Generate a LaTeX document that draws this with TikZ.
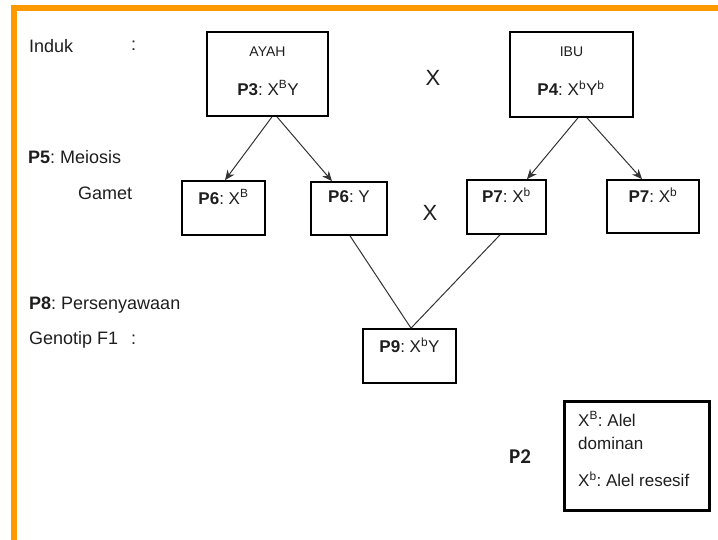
\documentclass[tikz,border=0pt]{standalone}
\usepackage{fontspec}
\setmainfont{Liberation Sans}
\newfontfamily\labelfont{Carlito}
\usetikzlibrary{arrows.meta,calc}
\frenchspacing
\definecolor{frameorange}{HTML}{FF9900}
\definecolor{linegray}{HTML}{333333}
\definecolor{inkgray}{HTML}{1E1E1E}
\tikzset{
  box/.style={draw=black,line width=1.7pt,minimum width=#1,inner sep=0pt},
  lbl/.style={anchor=west,inner sep=0pt,text=inkgray,font=\fontsize{18}{21}\selectfont},
  txt/.style={inner sep=0pt,text=inkgray,font=\fontsize{17}{20}\selectfont},
  small/.style={inner sep=0pt,text=inkgray,font=\fontsize{14}{17}\selectfont},
  cross/.style={inner sep=0pt,text=inkgray,font=\fontsize{22}{24}\selectfont},
  arr/.style={draw=linegray,line width=1pt,-{Stealth[length=10pt,width=8.5pt]}},
  link/.style={draw=linegray,line width=1pt}
}
\begin{document}
\begin{tikzpicture}[x=1pt,y=-1pt]
\useasboundingbox (0,0) rectangle (718,540);
% page frame
\fill[frameorange] (11,5) rectangle (718,11);
\fill[frameorange] (11,5) rectangle (17,540);

% row labels
\node[lbl] (induk) at (29,46) {Induk};
\node[lbl] (c1) at (131,46) {:};
\node[lbl] (meiosis) at (28,157) {\textbf{P5}: Meiosis};
\node[lbl] (gamet) at (78,193) {Gamet};
\node[lbl] (fert) at (29,305) {\textbf{P8}: Persenyawaan};
\node[lbl] (geno) at (29,340) {Genotip F1};
\node[lbl] (c2) at (131,340) {:};

% parents
\node[box=121pt,minimum height=84pt] (ayah) at (267.5,74) {};
\node[small] (ayahT) at (267.5,52) {AYAH};
\node[txt] (p3) at (268,88) {\textbf{P3}: X\textsuperscript{B}Y};
\node[box=123pt,minimum height=85pt] (ibu) at (571.5,74.5) {};
\node[small] (ibuT) at (571.5,52) {IBU};
\node[txt] (p4) at (571,88) {\textbf{P4}: X\textsuperscript{b}Y\textsuperscript{b}};
\node[cross] (cross1) at (433,78) {X};

% gametes
\node[box=83pt,minimum height=54pt] (g1) at (223.5,208) {};
\node[txt] (g1t) at (223.5,197) {\textbf{P6}: X\textsuperscript{B}};
\node[box=76pt,minimum height=53pt] (g2) at (349,208.5) {};
\node[txt] (g2t) at (349,197) {\textbf{P6}: Y};
\node[box=79pt,minimum height=54pt] (g3) at (506.5,207) {};
\node[txt] (g3t) at (506.5,195) {\textbf{P7}: X\textsuperscript{b}};
\node[box=92pt,minimum height=53pt] (g4) at (653,206.5) {};
\node[txt] (g4t) at (653,195) {\textbf{P7}: X\textsuperscript{b}};
\node[cross] (cross2) at (430,213) {X};

% offspring
\node[box=93pt,minimum height=54pt] (p9) at (409.5,356) {};
\node[txt] (p9t) at (409.5,345) {\textbf{P9}: X\textsuperscript{b}Y};

% meiosis arrows
\draw[arr] ([xshift=4.5pt]ayah.south) -- ([xshift=1.5pt]g1.north);
\draw[arr] ([xshift=9.5pt]ayah.south) -- ([xshift=-17pt]g2.north);
\draw[arr] ([xshift=6.5pt]ibu.south) -- ([xshift=20.5pt]g3.north);
\draw[arr] ([xshift=15.5pt]ibu.south) -- ([xshift=-11pt]g4.north);

% fertilisation
\draw[link] ([xshift=1pt]g2.south) -- ([xshift=1.5pt]p9.north);
\draw[link] ([xshift=-6.5pt]g3.south) -- ([xshift=1.5pt]p9.north);

% legend
\node[draw=black,line width=3pt,minimum width=145pt,minimum height=109pt,inner sep=0pt] (legend) at (637,456) {};
\node[txt,anchor=west] (la) at (578,419) {X\textsuperscript{B}: Alel};
\node[txt,anchor=west] (lb) at (578,443) {dominan};
\node[txt,anchor=west] (lc) at (578,479) {X\textsuperscript{b}: Alel resesif};
\node[inner sep=0pt,text=inkgray,font=\labelfont\bfseries\fontsize{21}{24}\selectfont] (p2) at (520,457) {P2};
\end{tikzpicture}
\end{document}
